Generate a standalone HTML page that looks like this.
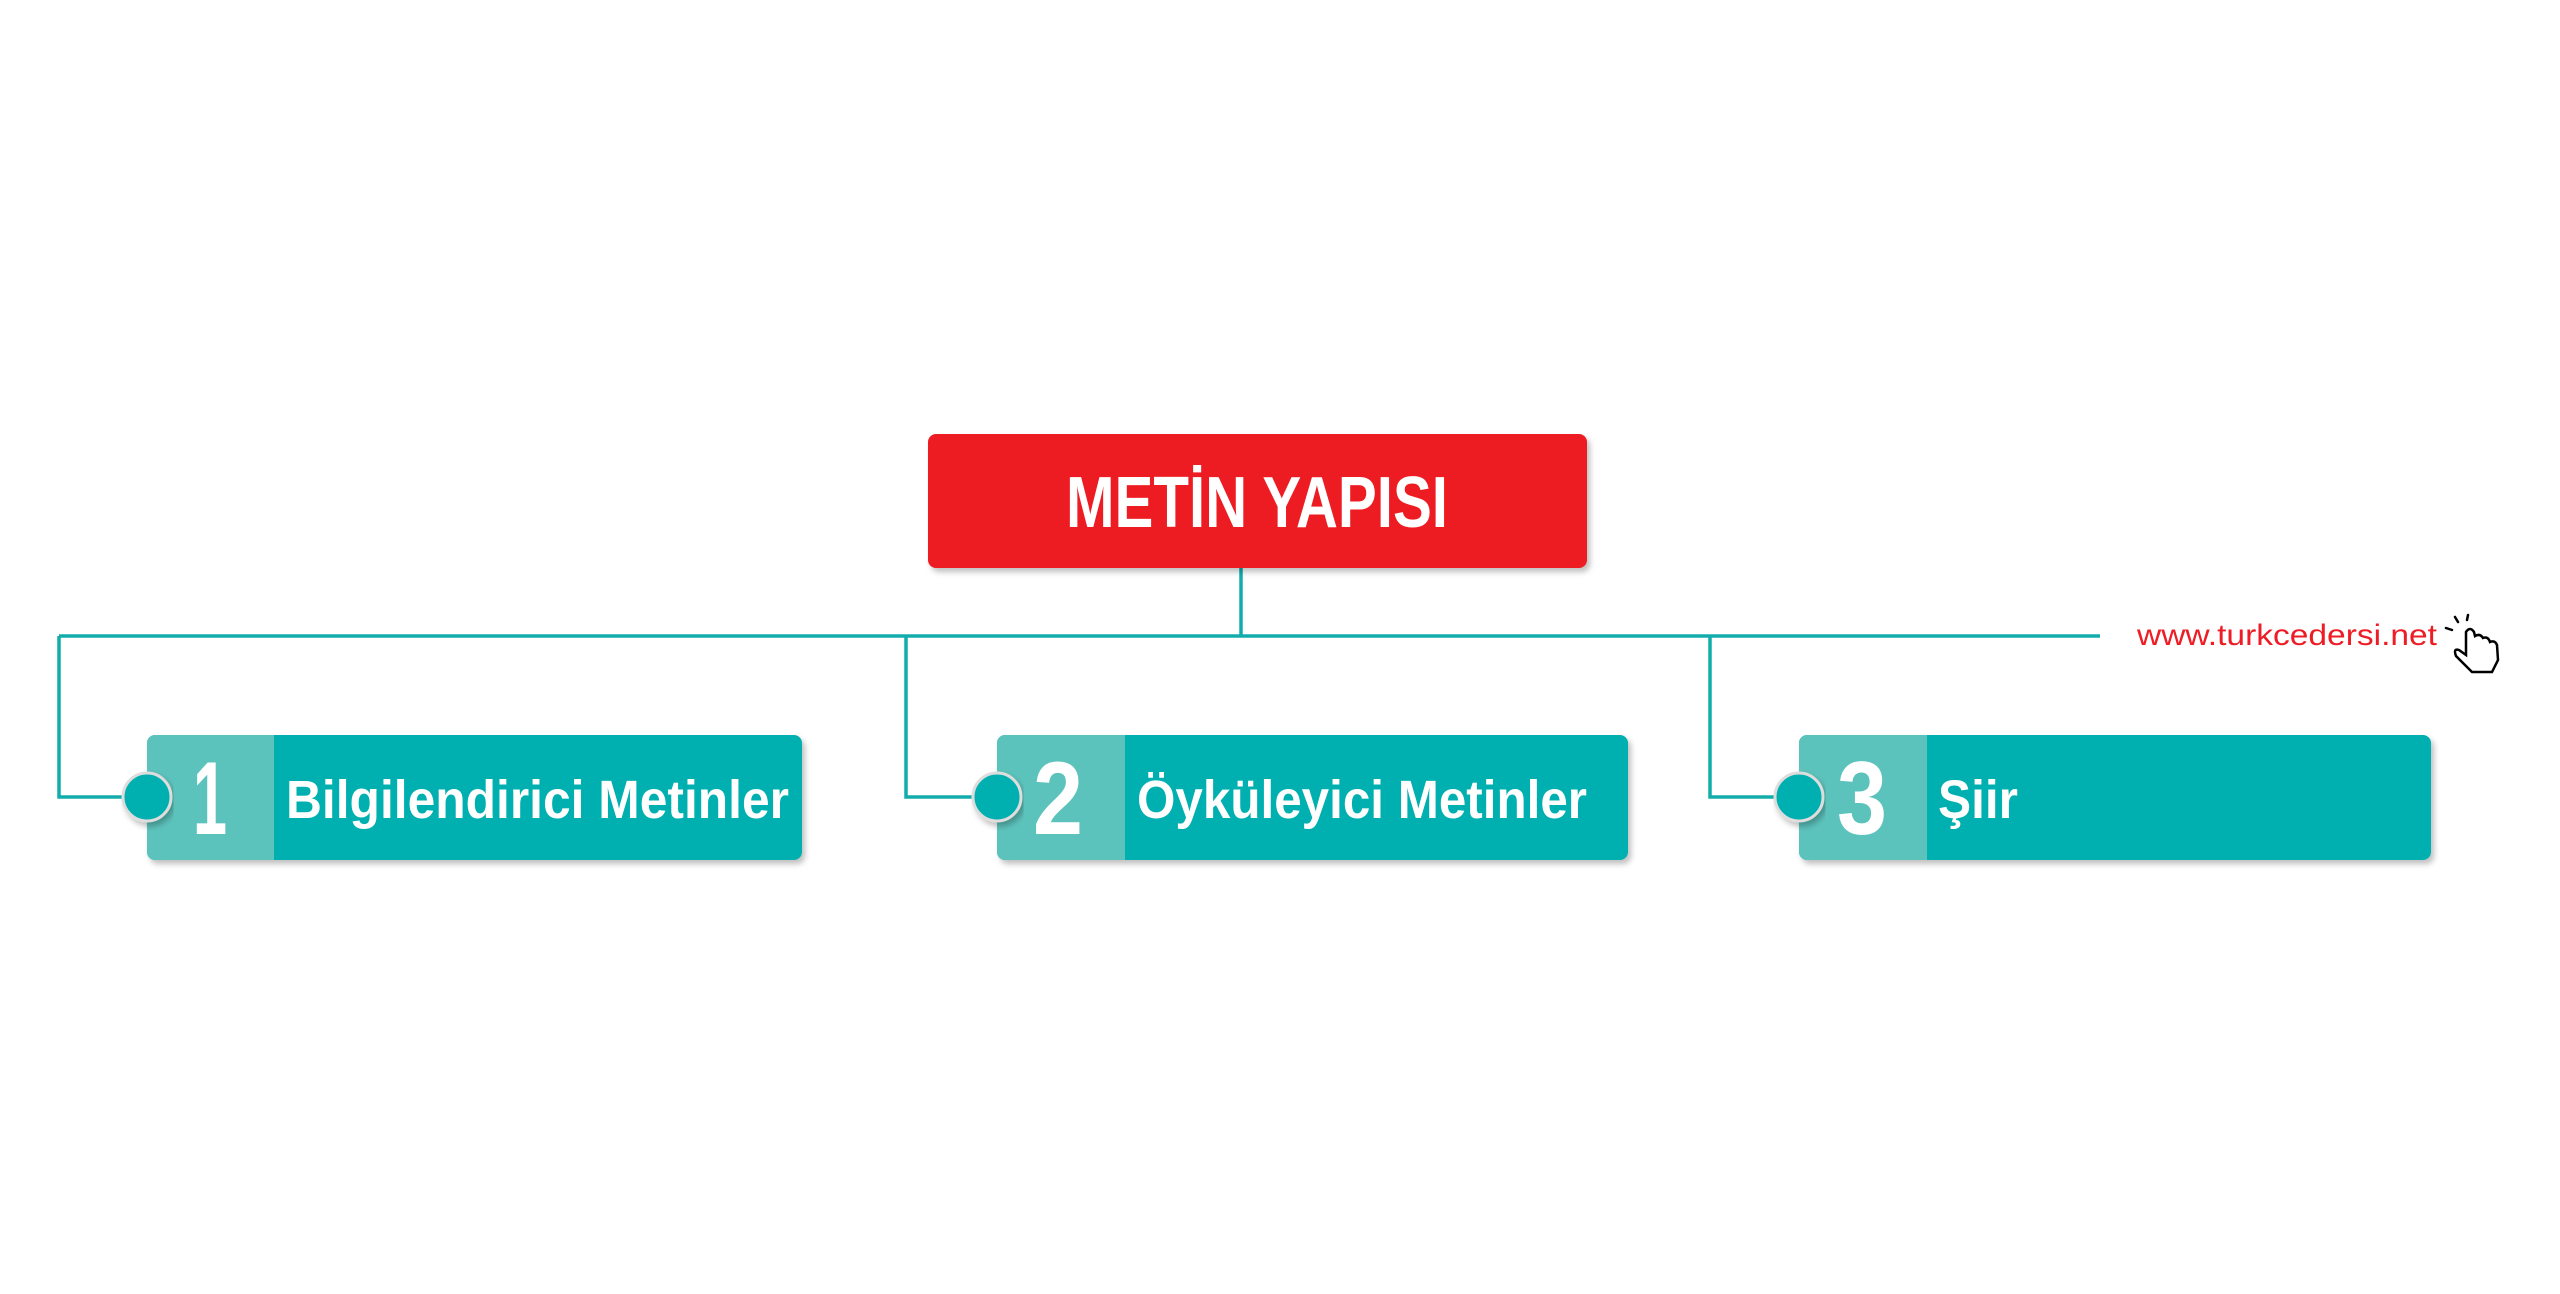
<!DOCTYPE html>
<html><head><meta charset="utf-8"><style>
html,body{margin:0;padding:0;background:#fff;}
svg{display:block;}
</style></head><body>
<svg width="2560" height="1294" viewBox="0 0 2560 1294" xmlns="http://www.w3.org/2000/svg">
<defs>
<filter id="sh" x="-5%" y="-10%" width="110%" height="130%"><feDropShadow dx="3" dy="4" stdDeviation="3" flood-color="#000" flood-opacity="0.25"/></filter>
</defs>
<g stroke="#12adab" stroke-width="3.5" fill="none">
<line x1="1241" y1="568" x2="1241" y2="636"/>
<line x1="59" y1="636" x2="2100" y2="636"/>
<polyline points="59,636 59,797 130,797"/>
<polyline points="906,636 906,797 980,797"/>
<polyline points="1710,636 1710,797 1785,797"/>
</g>
<rect x="928" y="434" width="659" height="134" rx="8" fill="#ed1c24" filter="url(#sh)"/>
<text x="1257" y="527" fill="#fff" font-family="Liberation Sans, sans-serif" font-weight="bold" font-size="72" text-anchor="middle" textLength="382" lengthAdjust="spacingAndGlyphs">METİN YAPISI</text>
<g font-family="Liberation Sans, sans-serif" font-weight="bold" fill="#fff">
<rect x="147" y="735" width="655" height="125" rx="8" fill="#03afaf" filter="url(#sh)"/>
<path d="M155 735 H274 V860 H155 A8 8 0 0 1 147 852 V743 A8 8 0 0 1 155 735Z" fill="#5cc3bc"/>
<circle cx="147" cy="797" r="24" fill="#03afaf" stroke="#ddd" stroke-width="3" filter="url(#sh)"/>
<text x="210" y="834" font-size="104" text-anchor="middle" textLength="34" lengthAdjust="spacingAndGlyphs">1</text>
<text x="286" y="818" font-size="54" textLength="503" lengthAdjust="spacingAndGlyphs">Bilgilendirici Metinler</text>

<rect x="997" y="735" width="631" height="125" rx="8" fill="#03afaf" filter="url(#sh)"/>
<path d="M1005 735 H1125 V860 H1005 A8 8 0 0 1 997 852 V743 A8 8 0 0 1 1005 735Z" fill="#5cc3bc"/>
<circle cx="997" cy="797" r="24" fill="#03afaf" stroke="#ddd" stroke-width="3" filter="url(#sh)"/>
<text x="1058" y="834" font-size="104" text-anchor="middle" textLength="50" lengthAdjust="spacingAndGlyphs">2</text>
<text x="1137" y="818" font-size="54" textLength="450" lengthAdjust="spacingAndGlyphs">Öyküleyici Metinler</text>

<rect x="1799" y="735" width="632" height="125" rx="8" fill="#03afaf" filter="url(#sh)"/>
<path d="M1807 735 H1927 V860 H1807 A8 8 0 0 1 1799 852 V743 A8 8 0 0 1 1807 735Z" fill="#5cc3bc"/>
<circle cx="1799" cy="797" r="24" fill="#03afaf" stroke="#ddd" stroke-width="3" filter="url(#sh)"/>
<text x="1862" y="834" font-size="104" text-anchor="middle" textLength="50" lengthAdjust="spacingAndGlyphs">3</text>
<text x="1938" y="818" font-size="54" textLength="80" lengthAdjust="spacingAndGlyphs">Şiir</text>
</g>
<text x="2137" y="645" fill="#ee1c25" font-family="Liberation Sans, sans-serif" font-size="30" textLength="300" lengthAdjust="spacingAndGlyphs">www.turkcedersi.net</text>
<g stroke="#000" stroke-width="2.5" fill="#fff" stroke-linecap="round">
<line x1="2452" y1="630" x2="2446" y2="628"/>
<line x1="2458" y1="622" x2="2455" y2="617"/>
<line x1="2467" y1="620" x2="2468" y2="615"/>
<path d="M2466 632 L2466 655 L2459 650 Q2453 648 2456 656 L2472 672 L2492 672 L2498 660 L2497 645 Q2495 640 2490 642 Q2488 636 2483 638 Q2480 633 2475 636 L2474 632 Q2470 626 2466 632Z"/>
</g>
</svg>
</body></html>
